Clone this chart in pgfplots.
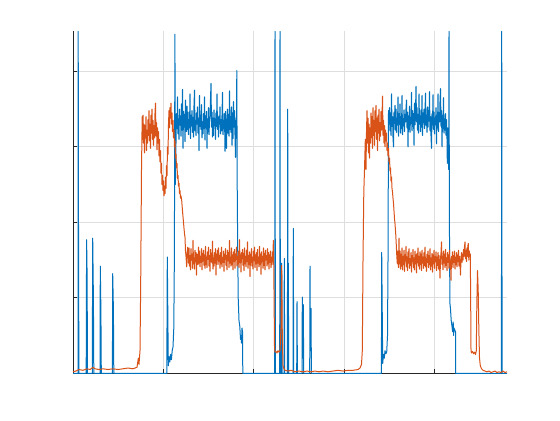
\documentclass[border=0pt]{standalone}
\usepackage{pgfplots}
\pgfplotsset{compat=1.18}
\definecolor{mblue}{HTML}{0072BD}
\definecolor{morange}{HTML}{D95319}
\definecolor{axgray}{HTML}{262626}

\begin{document}
\begin{tikzpicture}
\begin{axis}[
  at={(0,0)}, anchor=south west,
  scale only axis, width=217pt, height=171pt,
  xmin=0, xmax=434, ymin=0, ymax=4.53,
  xtick={0,90.3,180.6,270.9,361.2}, ytick={0,1,2,3,4},
  xticklabels={}, yticklabels={},
  axis lines*=left, axis line style={-, color=axgray, line width=0.45pt},
  tick align=inside, major tick length=2.2pt,
  tick style={color=axgray, line width=0.4pt},
  grid=major, grid style={color=black!13, line width=0.35pt},
  clip=false,
  every axis plot/.append style={line width=0.5pt, line join=round},
]
% series 1
\addplot[mblue] coordinates {
(0,0)(5,0)(5.2,4.53)(5.6,1.1)(6,0)(13.2,0)(13.6,1.77)(14.1,1.3)(14.5,0)(19.3,0)(19.7,1.79)(20.4,1.0)(20.8,0)
(27,0)(27.3,1.42)(27.9,0.83)(28.3,0)(39.4,0)(39.7,1.32)(40.4,0.85)(40.8,0)(93.8,0)(94.3,1.54)(95.3,0.1)
(96,0.22)(96.8,0.15)(97.6,0.25)(98.4,0.18)(99.2,0.3)(100,0.35)(100.8,0.6)(101.4,1.6)(101.9,4.49)(102.4,2.5)
(103.0,3.05)(103.5,3.44)(104.0,3.24)(104.5,3.66)(105.0,3.17)(105.5,3.37)(106.0,3.10)(106.5,3.50)(107.0,3.29)(107.5,3.41)
(108.0,3.14)(108.5,3.57)(109.0,3.22)(109.5,3.76)(110.0,2.98)(110.5,3.47)(111.0,3.26)(111.5,3.43)(112.0,3.07)(112.5,3.62)
(113.0,3.32)(113.5,3.20)(114.0,3.54)(114.5,3.23)(115.0,3.46)(115.5,3.16)(116.0,3.36)(116.5,3.25)(117.0,3.70)(117.5,3.11)
(118.0,3.42)(118.5,3.28)(119.0,3.48)(119.5,3.19)(120.0,3.39)(120.5,3.13)(121.0,3.55)(121.5,3.75)(122.0,3.21)(122.5,3.35)
(123.0,3.15)(123.5,3.45)(124.0,3.30)(124.5,3.53)(125.0,3.18)(125.5,3.38)(126.0,2.95)(126.5,3.68)(127.0,3.27)(127.5,3.42)
(128.0,3.23)(128.5,3.56)(129.0,3.12)(129.5,3.33)(130.0,3.17)(130.5,3.44)(131.0,3.24)(131.5,3.66)(132.0,3.09)(132.5,3.41)
(133.0,3.29)(133.5,3.47)(134.0,2.98)(134.5,3.37)(135.0,3.20)(135.5,3.52)(136.0,3.16)(136.5,3.34)(137.0,3.40)(137.5,3.63)
(138.0,3.84)(138.5,3.26)(139.0,3.46)(139.5,3.13)(140.0,3.38)(140.5,3.15)(141.0,3.49)(141.5,3.28)(142.0,3.37)(142.5,3.10)
(143.0,3.45)(143.5,3.27)(144.0,3.70)(144.5,3.23)(145.0,3.41)(145.5,3.13)(146.0,3.39)(146.5,3.30)(147.0,3.53)(147.5,3.17)
(148.0,3.36)(148.5,3.21)(149.0,3.42)(149.5,3.72)(150.0,3.16)(150.5,3.35)(151.0,3.24)(151.5,3.44)(152.0,2.94)(152.5,3.47)
(153.0,3.27)(153.5,2.98)(154.0,3.35)(154.5,3.50)(155.0,3.18)(155.5,3.43)(156.0,3.14)(156.5,3.74)(157.0,3.23)(157.5,3.40)
(158.0,3.19)(158.5,3.53)(159.0,3.02)(159.5,3.45)(160.0,3.11)(160.5,3.60)(161.0,3.26)(161.5,3.48)(162.0,3.15)(162.5,2.86)
(163.0,3.36)(163.5,3.40)(163.8,4.01)(164.2,2.5)(164.6,1.8)(165.2,1.0)(166,0.7)(166.8,0.62)(167.5,0.45)(168,0.5)
(168.5,0.4)(169,0.6)(169.5,0.55)(169.8,0)
(201.7,0)(202,4.53)(202.4,0)(206.7,0)(207,4.53)(207.4,0)(208.4,0)(208.7,1.46)(209.1,0)(211,0)(211.3,1.52)(211.7,0)
(214.4,0)(214.7,3.5)(215.1,0.5)(215.3,1.46)(215.7,0)(220,0)(220.3,1.92)(220.7,0)(223.7,0)(224,0.95)(224.4,0)
(229,0)(229.3,1.01)(229.7,0.2)(230.3,0.91)(230.7,0)(236.7,0)(237,1.42)(237.4,0.3)(238,0.86)(238.4,0)
(308.4,0)(308.7,1.6)(309.7,0.13)(310.5,0.25)(311.3,0.2)(312,0.3)(312.8,0.26)(313.7,0.28)(314.5,0.5)(315,1.5)(315.5,3.48)
(316.0,3.30)(316.5,3.52)(317.0,3.21)(317.5,3.45)(318.0,3.15)(318.5,3.70)(319.0,3.27)(319.5,3.40)(320.0,3.12)(320.5,3.00)
(321.0,3.46)(321.5,3.31)(322.0,3.55)(322.5,3.22)(323.0,3.50)(323.5,3.19)(324.0,3.38)(324.5,3.29)(325.0,3.66)(325.5,3.14)
(326.0,3.44)(326.5,3.30)(327.0,3.57)(327.5,3.18)(328.0,3.40)(328.5,3.24)(329.0,3.68)(329.5,3.16)(330.0,3.37)(330.5,3.28)
(331.0,3.49)(331.5,3.20)(332.0,3.43)(332.5,3.33)(333.0,3.51)(333.5,3.62)(334.0,3.25)(334.5,3.46)(335.0,3.00)(335.5,3.41)
(336.0,3.23)(336.5,3.54)(337.0,3.19)(337.5,3.39)(338.0,3.31)(338.5,3.72)(339.0,3.21)(339.5,3.48)(340.0,3.27)(340.5,3.44)
(341.0,3.02)(341.5,3.58)(342.0,3.29)(342.5,3.47)(343.0,3.80)(343.5,3.33)(344.0,3.52)(344.5,3.22)(345.0,3.43)(345.5,3.18)
(346.0,3.70)(346.5,3.30)(347.0,3.41)(347.5,3.20)(348.0,3.49)(348.5,3.26)(349.0,3.68)(349.5,3.15)(350.0,3.45)(350.5,3.32)
(351.0,3.50)(351.5,3.24)(352.0,3.47)(352.5,3.71)(353.0,3.28)(353.5,3.42)(354.0,3.19)(354.5,3.53)(355.0,3.26)(355.5,3.48)
(356.0,3.34)(356.5,3.73)(357.0,3.21)(357.5,3.40)(358.0,3.14)(358.5,2.98)(359.0,3.44)(359.5,3.29)(360.0,3.69)(360.5,3.23)
(361.0,3.46)(361.5,3.17)(362.0,3.38)(362.5,3.31)(363.0,3.52)(363.5,3.04)(364.0,3.42)(364.5,3.25)(365.0,3.70)(365.5,3.20)
(366.0,3.45)(366.5,3.33)(367.0,3.60)(367.5,3.77)(368.0,3.27)(368.5,3.48)(369.0,3.00)(369.5,3.41)(370.0,3.24)(370.5,3.65)
(371.0,3.18)(371.5,3.37)(372.0,3.22)(372.5,3.44)(373.0,3.15)(373.5,3.36)(374.0,3.10)(374.3,2.78)(374.8,3.25)(375.2,3.05)
(375.7,2.70)(376.0,4.53)(376.4,2.0)(376.9,0.93)(377.5,0.85)(378.2,0.7)(379,0.62)(379.6,0.55)(380.2,0.68)(380.6,0.5)
(381,0.6)(382.5,0.55)(382.7,0)(428.4,0)(428.7,4.53)(429.1,0)(434,0)
};
% series 2
\addplot[morange] coordinates {
(0,0.02)(3,0.03)(6,0.05)(10,0.04)(14,0.06)(17,0.05)(20,0.08)(22,0.06)(26,0.05)(30,0.06)(35,0.05)(40,0.06)
(45,0.05)(50,0.06)(55,0.07)(60,0.06)(64,0.08)(65.3,0.2)(66,0.12)(67,0.3)(67.7,1.2)(68.5,2.7)(69.2,3.4)
(69.7,3.10)(70.0,3.42)(70.5,3.05)(71.0,3.30)(71.5,2.92)(72.0,3.28)(72.5,3.12)(73.0,3.40)(73.5,2.95)(74.0,3.22)
(74.5,3.05)(75.0,3.36)(75.5,3.15)(76.0,3.48)(76.5,3.08)(77.0,3.30)(77.5,2.98)(78.0,3.42)(78.5,3.18)(79.0,3.50)
(79.5,3.10)(80.0,3.35)(80.5,3.02)(81.0,3.28)(81.5,3.12)(82.0,3.45)(82.5,3.58)(83.0,3.14)(83.5,3.32)(84.0,2.96)
(84.5,3.25)(85.0,3.05)(85.5,3.20)(86.0,2.88)(86.5,3.10)(87.0,2.80)(87.5,2.95)(88.0,2.65)(88.5,2.78)(89.0,2.50)
(89.5,2.62)(90.0,2.42)(90.5,2.55)(91.0,2.35)(91.5,2.48)(92.0,2.38)(92.5,2.60)(93.0,2.45)(93.5,2.75)(94.0,2.62)
(94.5,3.00)(95.0,2.90)(95.5,3.30)(96.0,3.48)(96.5,3.25)(97.0,3.52)(97.5,3.38)(98.0,3.58)(98.5,3.30)(99.0,3.45)
(99.5,3.20)(100.0,3.35)(100.5,3.12)(101.0,3.22)(101.5,3.00)(102.0,3.08)(102.5,2.85)(103.0,2.90)(103.5,2.72)(104.0,2.78)
(104.5,2.58)(105.0,2.62)(105.5,2.48)(106.0,2.52)(106.5,2.38)(107.0,2.42)(107.5,2.32)(108.0,2.35)(108.7,2.29)(109.5,2.15)
(110.3,2.03)(111.0,1.92)(111.5,1.85)(112.0,1.80)(112.5,1.62)(113.0,1.55)(113.7,1.41)(114.2,1.60)(114.7,1.67)
(115.0,1.60)(115.5,1.46)(116.0,1.66)(116.5,1.42)(117.0,1.56)(117.5,1.37)(118.0,1.65)(118.5,1.50)(119.0,1.58)(119.5,1.39)
(120.0,1.76)(120.5,1.45)(121.0,1.53)(121.5,1.38)(122.0,1.63)(122.5,1.48)(123.0,1.60)(123.5,1.30)(124.0,1.58)(124.5,1.52)
(125.0,1.44)(125.5,1.67)(126.0,1.46)(126.5,1.62)(127.0,1.41)(127.5,1.55)(128.0,1.47)(128.5,1.65)(129.0,1.37)(129.5,1.59)
(130.0,1.49)(130.5,1.63)(131.0,1.43)(131.5,1.57)(132.0,1.39)(132.5,1.68)(133.0,1.44)(133.5,1.54)(134.0,1.40)(134.5,1.61)
(135.0,1.51)(135.5,1.67)(136.0,1.42)(136.5,1.56)(137.0,1.35)(137.5,1.64)(138.0,1.48)(138.5,1.59)(139.0,1.46)(139.5,1.75)
(140.0,1.38)(140.5,1.53)(141.0,1.42)(141.5,1.60)(142.0,1.46)(142.5,1.65)(143.0,1.30)(143.5,1.58)(144.0,1.50)(144.5,1.63)
(145.0,1.44)(145.5,1.66)(146.0,1.48)(146.5,1.56)(147.0,1.39)(147.5,1.60)(148.0,1.45)(148.5,1.67)(149.0,1.41)(149.5,1.53)
(150.0,1.47)(150.5,1.62)(151.0,1.35)(151.5,1.58)(152.0,1.51)(152.5,1.65)(153.0,1.43)(153.5,1.56)(154.0,1.37)(154.5,1.63)
(155.0,1.49)(155.5,1.60)(156.0,1.40)(156.5,1.76)(157.0,1.46)(157.5,1.54)(158.0,1.42)(158.5,1.66)(159.0,1.44)(159.5,1.57)
(160.0,1.37)(160.5,1.61)(161.0,1.48)(161.5,1.64)(162.0,1.39)(162.5,1.58)(163.0,1.51)(163.5,1.67)(164.0,1.42)(164.5,1.55)
(165.0,1.45)(165.5,1.62)(166.0,1.40)(166.5,1.77)(167.0,1.47)(167.5,1.57)(168.0,1.34)(168.5,1.60)(169.0,1.52)(169.5,1.64)
(170.0,1.43)(170.5,1.59)(171.0,1.36)(171.5,1.66)(172.0,1.45)(172.5,1.55)(173.0,1.41)(173.5,1.63)(174.0,1.48)(174.5,1.74)
(175.0,1.39)(175.5,1.56)(176.0,1.44)(176.5,1.61)(177.0,1.28)(177.5,1.58)(178.0,1.47)(178.5,1.65)(179.0,1.42)(179.5,1.54)
(180.0,1.38)(180.5,1.62)(181.0,1.49)(181.5,1.67)(182.0,1.40)(182.5,1.57)(183.0,1.45)(183.5,1.60)(184.0,1.36)(184.5,1.64)
(185.0,1.46)(185.5,1.53)(186.0,1.41)(186.5,1.68)(187.0,1.44)(187.5,1.58)(188.0,1.31)(188.5,1.61)(189.0,1.48)(189.5,1.55)
(190.0,1.39)(190.5,1.66)(191.0,1.43)(191.5,1.59)(192.0,1.37)(192.5,1.63)(193.0,1.50)(193.5,1.56)(194.0,1.42)(194.5,1.65)
(195.0,1.45)(195.5,1.60)(196.0,1.38)(196.5,1.57)(197.0,1.47)(197.5,1.62)(198.0,1.40)(198.5,1.54)(199.0,1.44)(199.5,1.61)
(200.0,1.48)(200.3,1.76)(200.8,1.40)(201.5,0.35)(202,0.28)(203,0.29)(204,0.27)(205,0.3)(206,0.28)(207,0.3)
(208,0.6)(208.7,1.43)(209.3,0.5)(210,0.1)(211,0.06)(212,0.04)(215,0.03)(218,0.04)(222,0.02)(226,0.03)
(230,0.02)(234,0.03)(238,0.02)(242,0.03)(246,0.02)(250,0.03)(255,0.02)(260,0.03)(265,0.04)(270,0.03)
(275,0.04)(280,0.04)(285,0.05)(287,0.07)(288.5,0.12)(289.3,0.3)(290,1.5)(290.8,2.4)(291.5,2.7)(292.3,3.1)
(293.0,2.70)(293.5,3.20)(294.0,3.48)(294.5,3.05)(295.0,3.38)(295.5,2.92)(296.0,3.30)(296.5,2.85)(297.0,3.25)(297.5,3.05)
(298.0,3.45)(298.5,3.12)(299.0,3.40)(299.5,2.98)(300.0,3.52)(300.5,3.15)(301.0,3.35)(301.5,3.02)(302.0,3.48)(302.5,3.20)
(303.0,3.55)(303.5,3.10)(304.0,3.38)(304.5,2.95)(305.0,3.42)(305.5,3.18)(306.0,3.50)(306.5,3.08)(307.0,3.32)(307.5,3.14)
(308.0,3.47)(308.5,3.22)(309.0,3.40)(309.5,3.67)(310.0,3.15)(310.5,3.35)(311.0,3.05)(311.5,3.28)(312.0,3.00)(312.5,3.22)
(313.0,3.08)(313.5,3.18)(314.0,2.95)(314.5,3.05)(315.0,2.88)(315.5,2.98)(316.0,2.80)(316.5,2.85)(317.0,2.68)(317.5,2.72)
(318.0,2.55)(318.5,2.60)(319.0,2.45)(319.5,2.40)(320.0,2.32)(320.5,2.25)(321.0,2.15)(321.5,2.05)(322.0,1.98)(322.7,1.85)
(323.3,1.70)(323.8,1.55)(324.3,1.45)(324.8,1.62)
(325.0,1.55)(325.5,1.40)(326.0,1.79)(326.5,1.45)(327.0,1.62)(327.5,1.38)(328.0,1.58)(328.5,1.42)(329.0,1.66)(329.5,1.37)
(330.0,1.55)(330.5,1.44)(331.0,1.63)(331.5,1.35)(332.0,1.57)(332.5,1.49)(333.0,1.68)(333.5,1.41)(334.0,1.54)(334.5,1.36)
(335.0,1.61)(335.5,1.46)(336.0,1.65)(336.5,1.39)(337.0,1.52)(337.5,1.43)(338.0,1.60)(338.5,1.34)(339.0,1.56)(339.5,1.48)
(340.0,1.64)(340.5,1.40)(341.0,1.53)(341.5,1.37)(342.0,1.62)(342.5,1.45)(343.0,1.57)(343.5,1.33)(344.0,1.59)(344.5,1.47)
(345.0,1.66)(345.5,1.42)(346.0,1.55)(346.5,1.38)(347.0,1.61)(347.5,1.44)(348.0,1.58)(348.5,1.36)(349.0,1.63)(349.5,1.46)
(350.0,1.54)(350.5,1.39)(351.0,1.60)(351.5,1.43)(352.0,1.67)(352.5,1.41)(353.0,1.52)(353.5,1.35)(354.0,1.58)(354.5,1.47)
(355.0,1.62)(355.5,1.40)(356.0,1.56)(356.5,1.44)(357.0,1.65)(357.5,1.37)(358.0,1.53)(358.5,1.42)(359.0,1.59)(359.5,1.34)
(360.0,1.57)(360.5,1.45)(361.0,1.63)(361.5,1.39)(362.0,1.55)(362.5,1.48)(363.0,1.61)(363.5,1.36)(364.0,1.54)(364.5,1.43)
(365.0,1.60)(365.5,1.38)(366.0,1.56)(366.5,1.45)(367.0,1.26)(367.5,1.52)(368.0,1.60)(368.5,1.74)(369.0,1.44)(369.5,1.55)
(370.0,1.37)(370.5,1.62)(371.0,1.46)(371.5,1.58)(372.0,1.40)(372.5,1.64)(373.0,1.43)(373.5,1.53)(374.0,1.36)(374.5,1.60)
(375.0,1.47)(375.5,1.57)(376.0,1.39)(376.5,1.63)(377.0,1.42)(377.5,1.50)(378.0,1.23)(378.5,1.55)(379.0,1.45)(379.5,1.61)
(380.0,1.40)(380.5,1.56)(381.0,1.47)(381.5,1.62)(382.0,1.38)(382.5,1.54)(383.0,1.44)(383.5,1.60)(384.0,1.41)(384.5,1.57)
(385.0,1.48)(385.5,1.63)(386.0,1.42)(386.5,1.55)(387.0,1.46)(387.5,1.30)(388.0,1.52)(388.5,1.60)(389.0,1.47)(389.5,1.58)
(390.0,1.50)(390.5,1.64)(391.0,1.55)(391.5,1.68)(392.0,1.74)(392.5,1.52)(393.0,1.63)(393.5,1.48)(394.0,1.66)(394.5,1.55)
(395.0,1.70)(395.3,1.72)(395.8,1.50)(396.3,1.62)(396.8,1.55)(397.3,1.58)(397.7,0.9)(398.0,0.3)
(398.5,0.27)(399.5,0.29)(400.5,0.26)(401.5,0.28)(402.5,0.25)(403.3,0.3)(403.8,0.9)(404.5,1.36)(405.2,1.1)(405.8,0.6)
(406.5,0.2)(407.3,0.1)(408.5,0.06)(410,0.04)(412,0.03)(414,0.02)(416,0.03)(418,0.01)(420,0.02)(422,0.03)
(424,0.01)(426,0.02)(428,0.01)(430,0.03)(432,0.01)(434,0.02)
};
\end{axis}
\path (-36.5pt,-23.35pt) rectangle (243.5pt,186.65pt);
\end{tikzpicture}
\end{document}
